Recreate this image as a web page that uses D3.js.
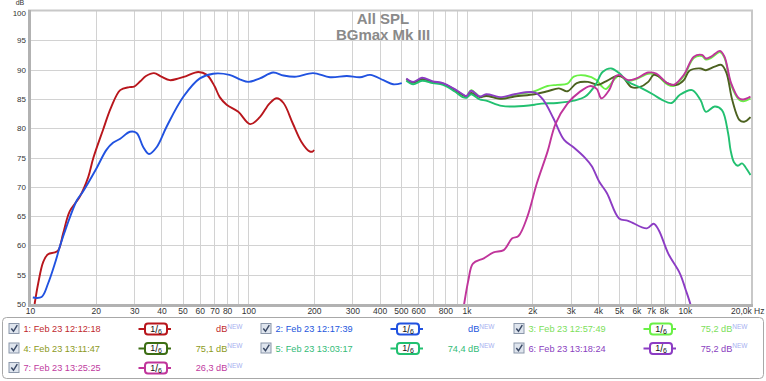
<!DOCTYPE html>
<html><head><meta charset="utf-8">
<script src="https://cdn.jsdelivr.net/npm/d3@7"></script>
<style>body{margin:0;background:#fff;} svg{display:block;font-family:"Liberation Sans",Arial,sans-serif;}</style>
</head><body><svg id="c" width="766" height="381"></svg>
<script>
// ---------- data ----------
const yTickValues = [50,55,60,65,70,75,80,85,90,95,100];
const xTickValues = [10,20,30,40,50,60,70,80,100,200,300,400,500,600,800,1000,2000,3000,4000,5000,6000,7000,8000,10000,20000];
const xTickLabels = ["10","20","30","40","50","60","70","80","100","200","300","400","500","600","800","1k","2k","3k","4k","5k","6k","7k","8k","10k","20,0k Hz"];

const s1 = [[10.5,50],[10.9,53.5],[11.5,57.2],[12.1,58.5],[13,58.8],[13.5,59.2],[14.2,62.1],[15.2,65.8],[16.9,68.3],[18.5,71.7],[19.5,74.9],[21.6,79.7],[23.5,83.5],[25.9,86.5],[28.5,87],[30,87.1],[32,88],[34,88.9],[37,89.4],[40,88.8],[43.7,88.2],[48,88.5],[52,88.9],[59,89.6],[64.6,89.1],[70,87.2],[74,85.3],[79.6,84],[90,82.8],[102,80.7],[113,81.9],[125,84.2],[135,85.1],[145,84.3],[160,80.8],[175,77.7],[190,76.1],[197,76],[200,76.3]];
const s2 = [[10.3,51.1],[11.3,51.2],[12.1,53.5],[13,56.9],[13.7,59.8],[14.7,63.2],[16.4,67.7],[17.5,69.2],[20,72.9],[22.4,76.3],[24,77.5],[25.9,78.2],[28.7,79.4],[30.8,79.2],[33,76.8],[35.1,75.6],[38.1,76.8],[42.3,80.3],[50.5,85.4],[60,88.5],[69,89.3],[82,89.1],[92,88.3],[100,87.9],[113,88.5],[130,89.5],[145,89.0],[166,88.8],[198,89.4],[237,88.7],[283,88.9],[325,88.7],[362,89.1],[416,88.2],[461,87.5],[505,87.7]];
const s3 = [[530,88.3],[570,87.8],[625,88.5],[700,87.9],[780,87.6],[880,86.5],[960,85.6],[1000,85.5],[1050,86.5],[1150,85.4],[1230,85.6],[1450,85.1],[1660,85.7],[2050,86.3],[2350,87.2],[2600,87.4],[2900,87.6],[3100,88.8],[3500,89.0],[3950,88.2],[4150,87.2],[4350,86.7],[4800,88.5],[5000,89.0],[5500,88.1],[6000,88.4],[6800,89.3],[7400,89.1],[8300,87.5],[8900,87.2],[9900,88.9],[11000,92.0],[12000,92.3],[12500,91.7],[13200,92.0],[14500,93.0],[15200,92.0],[16300,87.4],[17700,84.9],[18500,84.6],[20000,85.1]];
const s4 = [[530,88.4],[570,87.8],[625,88.4],[700,87.9],[780,87.6],[880,86.6],[960,85.7],[1000,85.4],[1050,86.0],[1150,85.3],[1230,85.5],[1450,85.0],[1660,85.4],[2050,85.8],[2350,86.3],[2650,86.8],[2900,86.3],[3200,87.7],[3600,87.9],[4000,87.4],[4300,87.9],[4900,88.9],[5200,88.7],[5700,87.0],[6200,87.0],[6800,87.9],[7200,89.1],[7700,88.7],[8300,87.7],[9200,87.4],[9900,88.2],[10500,89.8],[11800,90.2],[12500,89.9],[13700,90.5],[14700,90.8],[15500,89.5],[16500,84.8],[17800,81.4],[18700,81.1],[20000,81.9]];
const s5 = [[530,88.1],[570,87.5],[625,88.1],[700,87.7],[780,87.4],[880,86.3],[960,85.3],[1000,85.2],[1050,85.8],[1150,84.9],[1230,84.7],[1450,83.8],[1660,83.7],[2050,84.0],[2200,84.2],[2600,84.3],[3100,84.7],[3500,85.4],[3900,87.4],[4200,89.6],[4600,90.2],[5000,89.4],[5500,87.9],[6200,87.0],[7200,85.7],[7900,84.8],[8700,84.3],[9500,85.7],[10800,86.5],[11800,84.8],[12500,82.8],[13700,83.7],[14800,83.1],[15800,79.1],[16200,76.3],[16800,74.2],[17500,73.6],[18300,74.0],[19000,73.3],[20000,72.0]];
const s6 = [[530,88.5],[570,87.9],[625,88.6],[700,88.0],[780,87.7],[880,86.7],[960,85.8],[1000,85.5],[1050,86.4],[1150,85.4],[1230,85.8],[1450,85.3],[1660,85.8],[2050,86.1],[2250,84.8],[2500,81.7],[2800,78.0],[3100,76.7],[3500,74.9],[3750,73.5],[4050,70.9],[4400,68.9],[5000,64.6],[5500,64.2],[6700,62.9],[7200,63.7],[7600,62.6],[8400,58.6],[9500,55.2],[10100,52.4],[10600,50],[10800,48.5]];
const s7 = [[960,48.5],[975,50],[1020,54.1],[1070,56.9],[1200,57.8],[1330,58.8],[1480,59.2],[1620,61.2],[1730,61.6],[1900,64.9],[2100,70.6],[2350,76],[2560,80.8],[2900,84.2],[3300,86.2],[3700,87.2],[3950,86.7],[4150,85.1],[4500,86.5],[4800,88.8],[5000,89.1],[5500,88.2],[6000,88.5],[6800,89.5],[7400,89.3],[8300,87.7],[8900,87.4],[9900,89.1],[11000,92.2],[12000,92.5],[12500,91.9],[13200,92.2],[14500,93.2],[15200,92.2],[16300,87.7],[17700,85.1],[18500,84.9],[20000,85.4]];

const seriesData = [s1,s2,s3,s4,s5,s6,s7];
const seriesNames = ["1: Feb 23 12:12:18","2: Feb 23 12:17:39","3: Feb 23 12:57:49","4: Feb 23 13:11:47","5: Feb 23 13:03:17","6: Feb 23 13:18:24","7: Feb 23 13:25:25"];
const seriesLevels = ["","","75,2","75,1","74,4","75,2","26,3"];
const lineColors = ["#b8161c","#2152e0","#6af046","#4c6220","#22c070","#8c3cc4","#c0359b"];
const textColors = ["#c0282d","#2456dd","#7ce05a","#8c9a22","#33bb77","#8a40c0","#c03aa0"];
const boxColors  = ["#b8161c","#2152e0","#6af046","#3c6e14","#22c070","#8c3cc4","#c0359b"];
const legendOrder = [0,1,2,3,4,5,6];

// ---------- chart ----------
const svg = d3.select("#c");
const L=30, R=751, T=11, B=304;
const x = d3.scaleLog().domain([10,20000]).range([30,750.5]);
const y = d3.scaleLinear().domain([50,100]).range([B,T]);

// grid
const gridF=[];
[10,100,1000,10000].forEach(dec=>{for(let m=1;m<=9;m++){const f=m*dec; if(f>10&&f<20000) gridF.push(f);}});
svg.append("g").selectAll("line").data(gridF).join("line")
  .attr("x1",d=>Math.round(x(d))+0.5).attr("x2",d=>Math.round(x(d))+0.5)
  .attr("y1",T).attr("y2",B).attr("stroke","#d2d2d2").attr("stroke-width",1);
svg.append("g").selectAll("line").data(yTickValues.filter(v=>v>50&&v<100)).join("line")
  .attr("x1",L).attr("x2",R).attr("y1",d=>Math.round(y(d))+0.5).attr("y2",d=>Math.round(y(d))+0.5)
  .attr("stroke","#d2d2d2").attr("stroke-width",1);

// frame
svg.append("line").attr("x1",28).attr("x2",753).attr("y1",10.5).attr("y2",10.5).attr("stroke","#c8c8c8").attr("stroke-width",2);
svg.append("line").attr("x1",752).attr("x2",752).attr("y1",10).attr("y2",306).attr("stroke","#c8c8c8").attr("stroke-width",2);
svg.append("line").attr("x1",29.5).attr("x2",29.5).attr("y1",10).attr("y2",307).attr("stroke","#b2b2b2").attr("stroke-width",3);
svg.append("line").attr("x1",28).attr("x2",753).attr("y1",305.5).attr("y2",305.5).attr("stroke","#b2b2b2").attr("stroke-width",3);

// axes
const xa = svg.append("g").attr("transform",`translate(0,${B})`)
  .call(d3.axisBottom(x).tickValues(xTickValues).tickSize(0).tickPadding(4).tickFormat((d,i)=>xTickLabels[i]));
xa.select(".domain").remove();
xa.selectAll("text").attr("font-size",8.5).attr("fill","#333").attr("font-family","Liberation Sans, Arial, sans-serif");
xa.selectAll("text").filter((d,i)=>i===xTickLabels.length-1).attr("text-anchor","end").attr("x",764-x(20000));
const ya = svg.append("g").attr("transform",`translate(29,0)`)
  .call(d3.axisLeft(y).tickValues(yTickValues).tickSize(0).tickPadding(3));
ya.select(".domain").remove();
ya.selectAll("text").attr("font-size",8).attr("fill","#333").attr("font-family","Liberation Sans, Arial, sans-serif");
ya.selectAll("text").filter(d=>d===100).attr("dy","0.5em");
svg.append("text").attr("x",20).attr("y",5).attr("text-anchor","middle").attr("font-size",7).attr("fill","#333").text("dB");

// title
svg.append("text").attr("x",383).attr("y",24).attr("text-anchor","middle").attr("font-size",15).attr("font-weight","bold").attr("fill","#8a8a8a").text("All SPL");
svg.append("text").attr("x",383).attr("y",40).attr("text-anchor","middle").attr("font-size",15).attr("font-weight","bold").attr("fill","#8a8a8a").text("BGmax Mk III");

// curves
svg.append("clipPath").attr("id","pc").append("rect").attr("x",L).attr("y",T).attr("width",R-L).attr("height",B-T);
const line = d3.line().x(d=>x(d[0])).y(d=>y(d[1])).curve(d3.curveCatmullRom.alpha(0.5));
svg.append("g").attr("clip-path","url(#pc)").selectAll("path").data(seriesData).join("path")
  .attr("d",line).attr("fill","none").attr("stroke",(d,i)=>lineColors[i]).attr("stroke-width",1.9).attr("stroke-linejoin","round");

// legend
svg.append("rect").attr("x",2.5).attr("y",317.5).attr("width",761).attr("height",61).attr("rx",4)
  .attr("fill","#fff").attr("stroke","#a8a8a8").attr("stroke-width",1);
const colX=[8.5,260.5,513.5], rowY=[329,348.5,368];
legendOrder.forEach((si,k)=>{
  const cx=colX[k%3], cy=rowY[Math.floor(k/3)];
  const g=svg.append("g");
  g.append("rect").attr("x",cx+0.5).attr("y",cy-5.5).attr("width",10).attr("height",10).attr("fill","#dfe5ee").attr("stroke","#8b97aa");
  g.append("path").attr("d",`M${cx+2.8},${cy-0.5} L${cx+5},${cy+2.3} L${cx+8.8},${cy-3.8}`).attr("fill","none").attr("stroke","#3b4a66").attr("stroke-width",1.5);
  g.append("text").attr("x",cx+15).attr("y",cy+3.3).attr("font-size",9.2).attr("fill",textColors[si]).text(seriesNames[si]);
  g.append("line").attr("x1",cx+130).attr("x2",cx+162.5).attr("y1",cy).attr("y2",cy).attr("stroke",boxColors[si]).attr("stroke-width",2);
  g.append("rect").attr("x",cx+136.5).attr("y",cy-5.5).attr("width",22).attr("height",11).attr("rx",3).attr("fill","#fff").attr("stroke",boxColors[si]).attr("stroke-width",2);
  const ft=g.append("text").attr("x",cx+147.5).attr("y",cy+3.5).attr("text-anchor","middle").attr("fill","#111").attr("font-size",9);
  ft.append("tspan").attr("dy",-1).text("1");
  ft.append("tspan").attr("font-size",10).attr("dy",1).text("/");
  ft.append("tspan").attr("font-size",7).attr("dy",1).text("6");
  const vt=g.append("text").attr("x",cx+234).attr("y",cy+3.3).attr("text-anchor","end").attr("font-size",9.2).attr("fill",textColors[si]);
  vt.append("tspan").text((seriesLevels[si]?seriesLevels[si]+" ":"")+"dB");
  vt.append("tspan").attr("font-size",6.5).attr("dy",-3.5).attr("fill","#a7b0f0").text("NEW");
});
</script></body></html>
